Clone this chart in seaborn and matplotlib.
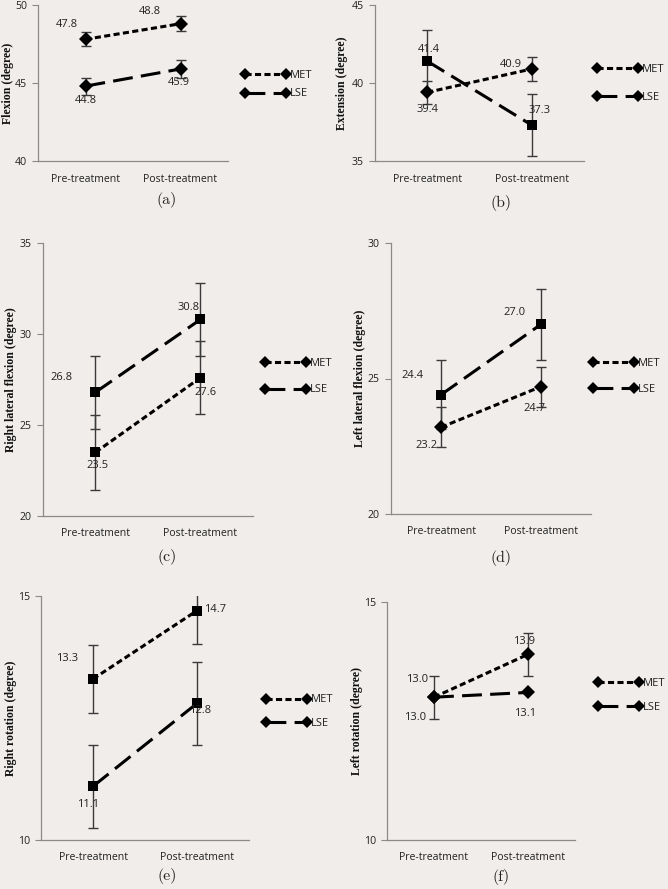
import numpy as np
import pandas as pd
import matplotlib
matplotlib.use("Agg")
import matplotlib.pyplot as plt
import seaborn as sns
from matplotlib.lines import Line2D

# ---------------- data ----------------
categories = ["Pre-treatment", "Post-treatment"]
groups = ["MET", "LSE"]

flexion_met = [47.8, 48.8]
flexion_met_err = [0.45, 0.47]
flexion_lse = [44.8, 45.9]
flexion_lse_err = [0.55, 0.55]

extension_met = [39.4, 40.9]
extension_met_err = [0.72, 0.75]
extension_lse = [41.4, 37.3]
extension_lse_err = [2.0, 2.0]

rlat_met = [23.5, 27.6]
rlat_met_err = [2.05, 2.0]
rlat_lse = [26.8, 30.8]
rlat_lse_err = [2.0, 2.0]

llat_met = [23.2, 24.7]
llat_met_err = [0.74, 0.74]
llat_lse = [24.4, 27.0]
llat_lse_err = [1.27, 1.3]

rrot_met = [13.3, 14.7]
rrot_met_err = [0.7, 0.68]
rrot_lse = [11.1, 12.8]
rrot_lse_err = [0.85, 0.85]

lrot_met = [13.0, 13.9]
lrot_met_err = [0.45, 0.45]
lrot_lse = [13.0, 13.1]
lrot_lse_err = [0.0, 0.0]

ylabels = ["Flexion (degree)", "Extension (degree)", "Right lateral flexion (degree)",
           "Left lateral flexion (degree)", "Right rotation (degree)", "Left rotation (degree)"]
yticks_list = [[40, 45, 50], [35, 40, 45], [20, 25, 30, 35], [20, 25, 30], [10, 15], [10, 15]]
captions = ["(a)", "(b)", "(c)", "(d)", "(e)", "(f)"]

# ---------------- style ----------------
W, H = 668, 889
BG = "#f0edeb"
sns.set_theme(style="white", rc={"figure.facecolor": BG, "axes.facecolor": BG,
                                 "savefig.facecolor": BG})
plt.rcParams["font.family"] = ["Open Sans", "DejaVu Sans"]

fig = plt.figure(figsize=(W / 100, H / 100), dpi=100)

# axes boxes in pixels: (left, top, right, bottom)
boxes = [(38, 5, 228, 161), (375, 5, 584, 161),
         (43, 243, 253, 516), (391, 243, 591, 514),
         (41, 596, 249, 840), (387, 602, 575, 840)]
ylabel_x = [8, 342, 11, 360, 11, 357]
legend_px = [(242, 75, 94), (594, 69, 97), (262, 363, 390), (590, 363, 389),
             (263, 700, 723), (595, 683, 707)]
caption_px = [(167, 200), (501, 203), (167, 557), (501, 558), (167, 876), (501, 877)]

panels = [
    (flexion_met, flexion_met_err, flexion_lse, flexion_lse_err),
    (extension_met, extension_met_err, extension_lse, extension_lse_err),
    (rlat_met, rlat_met_err, rlat_lse, rlat_lse_err),
    (llat_met, llat_met_err, llat_lse, llat_lse_err),
    (rrot_met, rrot_met_err, rrot_lse, rrot_lse_err),
    (lrot_met, lrot_met_err, lrot_lse, lrot_lse_err),
]
markers_used = [("D", "D"), ("D", "s"), ("s", "s"), ("D", "s"), ("s", "s"), ("D", "D")]
# label offsets in pixels: [MET pre, MET post], [LSE pre, LSE post]
label_off = [
    ([(-19, 15), (-31, 12)], [(0, -14), (-2, -14)]),
    ([(0, -17), (-21, 4)], [(2, 12), (8, 15)]),
    ([(2, -13), (5, -15)], [(-34, 15), (-12, 12)]),
    ([(-14, -18), (-7, -22)], [(-28, 19), (-26, 12)]),
    ([(-26, 20), (18, 1)], [(-5, -18), (3, -7)]),
    ([(-17, 18), (-4, 13)], [(-19, -20), (-3, -21)]),
]

dash_met = (2.0, 1.1)
dash_lse = (6.5, 2.7)
LW = 2.2
FS = 7.6
txt_kw = dict(fontsize=FS, color="#222222", family=["Open Sans", "DejaVu Sans"])
lab_kw = dict(fontsize=8.0, color="#222222", family=["Open Sans", "DejaVu Sans"])
x_pos = [0, 1]

for i, (met, met_e, lse, lse_e) in enumerate(panels):
    l, t, r, b = boxes[i]
    ax = fig.add_axes([l / W, 1 - b / H, (r - l) / W, (b - t) / H])
    ax.set_facecolor(BG)
    df = pd.DataFrame({
        "x": x_pos + x_pos,
        "value": list(met) + list(lse),
        "group": [groups[0]] * 2 + [groups[1]] * 2,
    })
    # error bars
    ax.errorbar(x_pos, met, yerr=met_e, fmt="none", ecolor="#3a3a3a", elinewidth=1.0,
                capsize=3.5, capthick=1.0, zorder=2)
    ax.errorbar(x_pos, lse, yerr=lse_e, fmt="none", ecolor="#3a3a3a", elinewidth=1.0,
                capsize=3.5, capthick=1.0, zorder=2)
    mk = markers_used[i]
    sns.lineplot(data=df, x="x", y="value", hue="group", style="group",
                 palette={"MET": "black", "LSE": "black"},
                 dashes={"MET": dash_met, "LSE": dash_lse},
                 markers={"MET": mk[0], "LSE": mk[1]},
                 markersize=7 if mk[0] == "D" else 6.5, markeredgewidth=0,
                 linewidth=LW, legend=False, ax=ax, zorder=3)
    # value labels
    for vals, offs in ((met, label_off[i][0]), (lse, label_off[i][1])):
        for xv, yv, off in zip(x_pos, vals, offs):
            ax.annotate(f"{yv:.1f}", (xv, yv), xytext=off, textcoords="offset pixels",
                        ha="center", va="center", zorder=4, **lab_kw)
    yt = yticks_list[i]
    ax.set_ylim(yt[0], yt[-1])
    ax.set_xlim(-0.5, 1.5)
    ax.set_yticks(yt)
    ax.set_yticklabels([str(v) for v in yt], **txt_kw)
    ax.set_xticks(x_pos)
    ax.set_xticklabels(categories, **txt_kw)
    ax.set_xticks([-0.5, 0.5, 1.5], minor=True)
    ax.tick_params(axis="x", which="major", length=0, pad=9)
    ax.tick_params(axis="x", which="minor", length=4, width=0.8, color="#8a8a8a", direction="out")
    ax.tick_params(axis="y", which="major", length=4, width=0.8, color="#8a8a8a",
                   direction="out", left=True, pad=4)
    for s in ("top", "right"):
        ax.spines[s].set_visible(False)
    for s in ("left", "bottom"):
        ax.spines[s].set_color("#8a8a8a")
        ax.spines[s].set_linewidth(0.9)
    ax.set_xlabel("")
    ax.set_ylabel(ylabels[i], fontsize=8.5, fontweight="bold", va="center",
                  family=["Liberation Serif", "DejaVu Serif"], color="#111111")
    ax.yaxis.set_label_coords((ylabel_x[i] - l) / (r - l), 0.5)
    # legend (handles drawn with diamonds at both ends)
    lx, my, ly = legend_px[i]
    handles = [Line2D([0], [0], color="black", lw=LW, dashes=dash_met, marker="D",
                      markersize=6.5, markeredgewidth=0),
               Line2D([0], [0], color="black", lw=LW, dashes=dash_lse, marker="D",
                      markersize=6.5, markeredgewidth=0)]
    for h, g, yy in zip(handles, groups, (my, ly)):
        leg = fig.legend([h], [g], loc="center left", bbox_to_anchor=(lx / W, 1 - yy / H),
                         frameon=False, numpoints=2, handlelength=4.3, handletextpad=0.0,
                         borderpad=0, borderaxespad=0,
                         prop={"family": ["Open Sans", "DejaVu Sans"], "size": 8.0})
        for tx in leg.get_texts():
            tx.set_color("#222222")
    cx, cy = caption_px[i]
    fig.text(cx / W, 1 - cy / H, captions[i], ha="center", va="center",
             fontsize=11.5, family=["cmr10", "DejaVu Serif"], color="#222222")

fig.savefig("out.png", dpi=100, facecolor=BG)
